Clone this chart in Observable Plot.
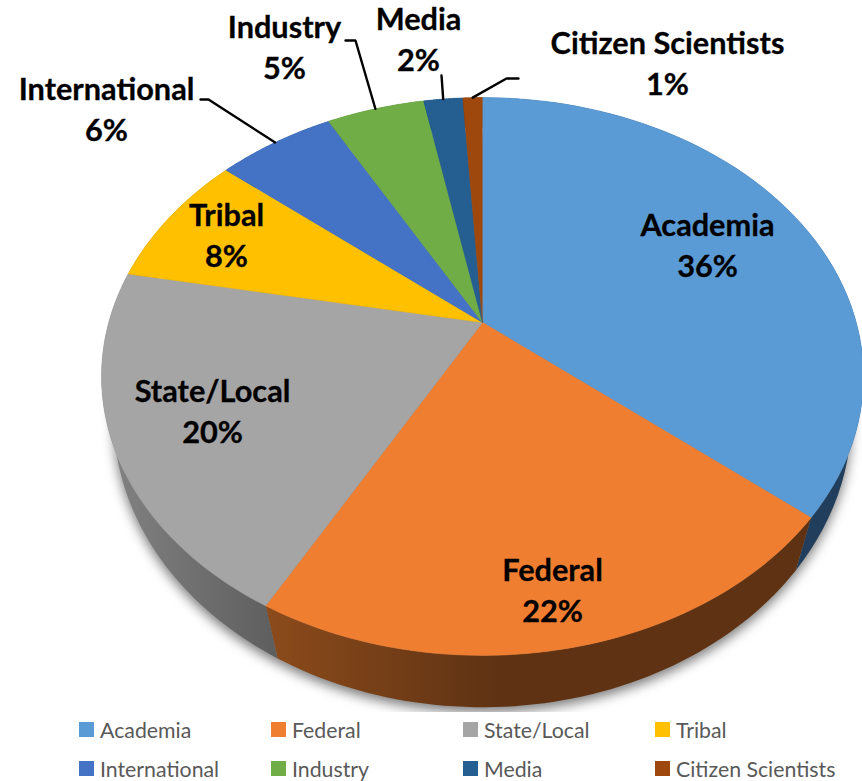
<!DOCTYPE html>
<html>
<head>
<meta charset="utf-8">
<script src="https://cdn.jsdelivr.net/npm/d3@7"></script>
<script src="https://cdn.jsdelivr.net/npm/@observablehq/plot@0.6"></script>
<style>
  html, body { margin: 0; padding: 0; background: #fff; }
  #chart svg { display: block; }
  #legend { display: grid; grid-template-columns: repeat(4, 192px); grid-auto-rows: 39px;
            margin-left: 79px; margin-top: -2px; font: 21.3px Lato, sans-serif; color: #595959; }
  #legend div { display: flex; align-items: center; white-space: nowrap; }
  #legend i { display: inline-block; width: 15px; height: 15px; margin-right: 6px; }
</style>
</head>
<body>
<div id="chart"></div>
<div id="legend"></div>
<script>
// Data
const categories = ["Academia", "Federal", "State/Local", "Tribal", "International", "Industry", "Media", "Citizen Scientists"];
const shares = [36, 22, 20, 8, 6, 5, 2, 1];
const colors = ["#5B9BD5", "#F07E30", "#A5A5A5", "#FFC000", "#4472C4", "#70AD47", "#255E91", "#9E480E"];
const sideColors = ["#213F5C", "url(#federalSide)", "url(#stateSide)", "#7F6000", "#2F4A80", "#43682B", "#163855", "#5E2B08"];
const outside = ["International", "Industry", "Media", "Citizen Scientists"];

// Layout: label centres, and the leader lines' elbow relative to the label side
const labelCenters = [[707, 243], [552, 588], [212, 409], [226, 233], [106, 107], [284, 45], [418, 37], [667, 61]];
const leaderKnees = { "International": [[200, 99], [208, 99]], "Industry": [[345, 40], [355, 40]], "Media": [[441, 75]], "Citizen Scientists": [[518, 78], [506, 78]] };

// Perspective views of the pie's top and bottom discs
const topDisc = { cx: 482, cy: 322, r: 373.8, a: 268.5, c: 0.1935 };
const bottomDisc = { cx: 482, cy: 369, r: 363.8, a: 282, c: 0.165 };
function project(d, theta, k = 1) {
  const u = k * Math.sin(theta), v = k * Math.cos(theta), w = 1 + d.c * v;
  return { x: d.cx + d.r * u / w, y: d.cy - d.a * v / w };
}

const arcs = d3.pie().sort(null).value((d) => d)(shares);
const arcPoints = (disc, a) => d3.range(61).map((i) => project(disc, a.startAngle + (a.endAngle - a.startAngle) * i / 60));

const faces = categories.flatMap((category, i) => [
  project(topDisc, 0, 0),
  ...arcPoints(topDisc, arcs[i])
].map((p) => ({ ...p, key: category })));

const sides = categories.flatMap((category, i) => [
  ...arcPoints(topDisc, arcs[i]),
  ...arcPoints(bottomDisc, arcs[i]).reverse()
].map((p) => ({ ...p, key: "side " + category })));

const shadow = d3.range(241).map((i) => project(bottomDisc, 2 * Math.PI * i / 240));

const leaders = outside.flatMap((category) => {
  const a = arcs[categories.indexOf(category)];
  return [...leaderKnees[category].map(([x, y]) => ({ x, y })), project(topDisc, (a.startAngle + a.endAngle) / 2)]
    .map((p) => ({ ...p, key: category }));
});

const labels = categories.map((category, i) => ({
  x: labelCenters[i][0], y: labelCenters[i][1], text: `${category}\n${shares[i]}%`
}));

const gradients = () => {
  const defs = d3.create("svg:defs");
  const add = (id, from, to) => {
    const g = defs.append("linearGradient").attr("id", id).attr("gradientUnits", "userSpaceOnUse")
      .attr("x1", from[0]).attr("x2", to[0]).attr("y1", 0).attr("y2", 0);
    g.append("stop").attr("offset", 0).attr("stop-color", from[1]);
    g.append("stop").attr("offset", 1).attr("stop-color", to[1]);
  };
  add("federalSide", [275, "#8A4A1B"], [500, "#5E3213"]);
  add("stateSide", [120, "#808080"], [275, "#5E5E5E"]);
  return defs.node();
};

const chart = Plot.plot({
  width: 862,
  height: 712,
  margin: 0,
  x: { domain: [0, 862], range: [0, 862], axis: null },
  y: { domain: [0, 712], range: [0, 712], axis: null },
  color: {
    type: "ordinal",
    domain: [...categories, ...categories.map((c) => "side " + c)],
    range: [...colors, ...sideColors]
  },
  style: { background: "transparent", overflow: "hidden" },
  marks: [
    gradients,
    Plot.line(shadow, { x: "x", y: "y", dy: 5, fill: "#7c7c7c", stroke: "none", imageFilter: "blur(6px)" }),
    Plot.line(sides, { x: "x", y: "y", z: "key", fill: "key", stroke: "none" }),
    Plot.line(faces, { x: "x", y: "y", z: "key", fill: "key", stroke: "key", strokeWidth: 0.5 }),
    Plot.line(leaders, { x: "x", y: "y", z: "key", stroke: "#000", strokeWidth: 2.4, strokeLinejoin: "miter" }),
    Plot.text(labels, {
      x: "x", y: "y", text: "text", fill: "#000", stroke: "#000", strokeWidth: 0.3,
      fontFamily: "Lato, sans-serif", fontWeight: 700, fontSize: 30.7, lineHeight: 1.35, textAnchor: "middle"
    })
  ]
});
document.getElementById("chart").append(chart);

const legend = d3.select("#legend");
categories.forEach((c, i) => {
  const item = legend.append("div");
  item.append("i").style("background", colors[i]);
  item.append("span").text(c);
});
</script>
</body>
</html>
